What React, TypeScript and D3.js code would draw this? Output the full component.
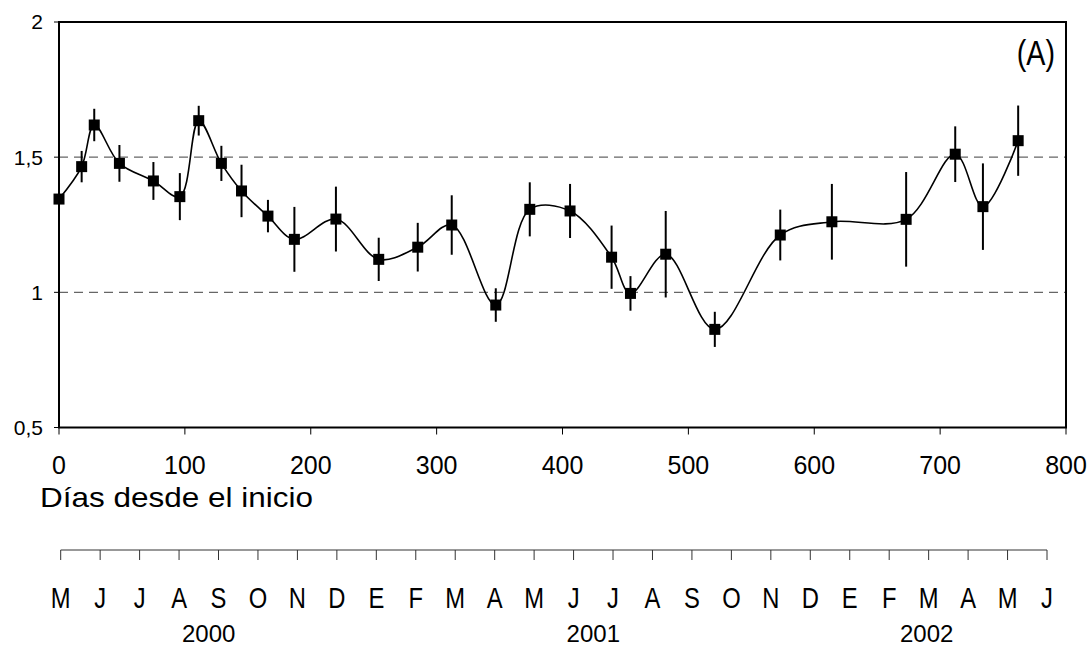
import React from 'react';
import * as d3 from 'd3';

// Days since start, mean value and error (half length of the bar)
const days = [0, 18, 28, 48, 75, 96, 111, 129, 145, 166, 187, 220, 254, 285, 312, 347, 374, 406, 439, 454, 482, 521, 573, 614, 673, 712, 734, 762];
const values = [1.345, 1.465, 1.619, 1.477, 1.412, 1.354, 1.635, 1.477, 1.375, 1.282, 1.196, 1.271, 1.122, 1.167, 1.249, 0.953, 1.307, 1.301, 1.13, 0.996, 1.141, 0.863, 1.212, 1.261, 1.27, 1.511, 1.317, 1.561];
const errors = [0.06, 0.058, 0.06, 0.068, 0.07, 0.087, 0.055, 0.065, 0.097, 0.06, 0.12, 0.12, 0.08, 0.09, 0.11, 0.062, 0.1, 0.1, 0.117, 0.064, 0.16, 0.065, 0.094, 0.14, 0.175, 0.103, 0.16, 0.13];

const xTicks = [0, 100, 200, 300, 400, 500, 600, 700, 800];
const yTicks = [0.5, 1, 1.5, 2];
const refLines = [1, 1.5];

const months = ['M', 'J', 'J', 'A', 'S', 'O', 'N', 'D', 'E', 'F', 'M', 'A', 'M', 'J', 'J', 'A', 'S', 'O', 'N', 'D', 'E', 'F', 'M', 'A', 'M', 'J'];
const years = ['2000', '2001', '2002'];
const yearPos = [3.75, 13.5, 21.95]; // position along the month axis, in months

const W = 1091;
const H = 648;
const FONT = "'Liberation Sans', Arial, sans-serif";

export default function App() {
  const x = d3.scaleLinear().domain([0, 800]).range([59, 1066]);
  const y = d3.scaleLinear().domain([0.5, 2]).range([427.5, 22]);
  const comma = d3.formatLocale({ decimal: ',', thousands: '.', grouping: [3], currency: ['', ''] }).format('~g');

  const pts = days.map((d, i) => [d, values[i]] as [number, number]);
  const line = d3
    .line<[number, number]>()
    .x((d) => x(d[0]))
    .y((d) => y(d[1]))
    .curve(d3.curveCatmullRom.alpha(0.5));

  // month axis below the chart
  const mIdx = months.map((_, i) => i);
  const mx = d3.scaleLinear().domain([0, months.length - 1]).range([60.7, 1047]);
  const monthY = 550;

  return (
    <div style={{ position: 'absolute', left: 0, top: 0 }}>
      <svg width={W} height={H} style={{ display: 'block', background: '#fff' }} fontFamily={FONT}>
        {/* reference dashed lines */}
        {refLines.map((v) => (
          <line key={v} x1={x(0)} x2={x(800)} y1={y(v)} y2={y(v)} stroke="#666" strokeWidth={1.2} strokeDasharray="9 6" />
        ))}

        {/* frame */}
        <rect x={x(0)} y={y(2)} width={x(800) - x(0)} height={y(0.5) - y(2)} fill="none" stroke="#000" strokeWidth={2} />

        {/* y ticks */}
        {yTicks.map((t) => (
          <g key={t}>
            <line x1={x(0) - 5} x2={x(0)} y1={y(t)} y2={y(t)} stroke="#000" strokeWidth={1} />
            <text x={43} y={y(t)} dy="0.35em" textAnchor="end" fontSize={21}>
              {comma(t)}
            </text>
          </g>
        ))}

        {/* x ticks */}
        {xTicks.map((t) => (
          <g key={t}>
            <line x1={x(t)} x2={x(t)} y1={y(0.5)} y2={y(0.5) + 7} stroke="#000" strokeWidth={1} />
            <text x={x(t)} y={474} textAnchor="middle" fontSize={25}>
              {t}
            </text>
          </g>
        ))}

        <text x={40} y={507} fontSize={28} textLength={273} lengthAdjust="spacingAndGlyphs">
          Días desde el inicio
        </text>

        {/* smoothed line */}
        <path d={line(pts) || ''} fill="none" stroke="#000" strokeWidth={1.6} />

        {/* error bars */}
        {pts.map((p, i) => (
          <line key={'e' + i} x1={x(p[0])} x2={x(p[0])} y1={y(p[1] + errors[i])} y2={y(p[1] - errors[i])} stroke="#000" strokeWidth={2} />
        ))}

        {/* markers */}
        {pts.map((p, i) => (
          <rect key={'m' + i} x={x(p[0]) - 5.5} y={y(p[1]) - 5.5} width={11} height={11} fill="#000" />
        ))}

        <text transform={`translate(1055,65) scale(0.82,1)`} textAnchor="end" fontSize={35}>
          (A)
        </text>

        {/* month axis */}
        <line x1={mx(0)} x2={mx(months.length - 1)} y1={monthY} y2={monthY} stroke="#333" strokeWidth={1} />
        {mIdx.map((i) => (
          <g key={'mt' + i}>
            <line x1={mx(i)} x2={mx(i)} y1={monthY} y2={monthY + 10} stroke="#333" strokeWidth={1} />
            <text transform={`translate(${mx(i)},608) scale(0.82,1)`} textAnchor="middle" fontSize={29}>
              {months[i]}
            </text>
          </g>
        ))}
        {years.map((yr, i) => (
          <text key={yr} x={mx(yearPos[i])} y={642} textAnchor="middle" fontSize={24}>
            {yr}
          </text>
        ))}
      </svg>
    </div>
  );
}
